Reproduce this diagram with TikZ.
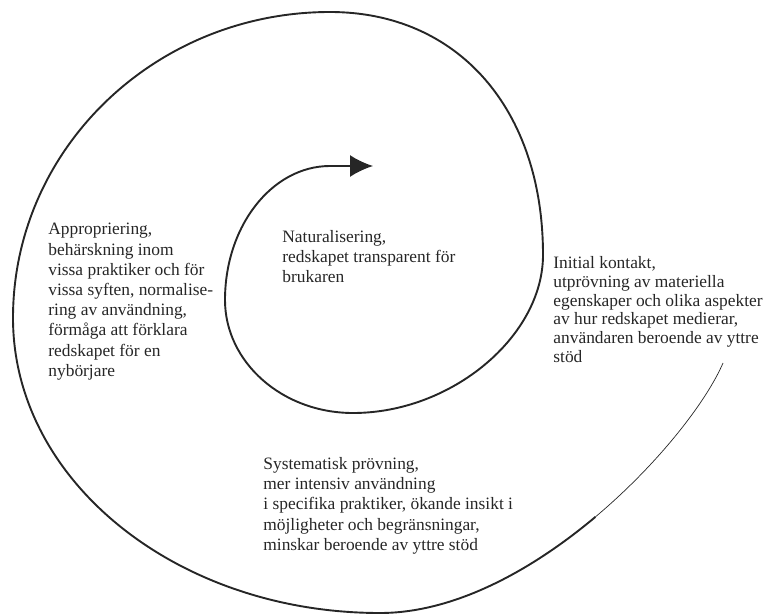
\documentclass[tikz,border=0pt]{standalone}
\usepackage{fontspec}
\setmainfont{Liberation Serif}
\usetikzlibrary{arrows.meta}

\begin{document}
\begin{tikzpicture}[x=0.5pt,y=-0.5pt]
\tikzstyle{every node}+=[inner sep=0pt]
\tikzstyle{phase}=[anchor=north west, align=left, text=black!85,
  font=\fontsize{8.7}{10.1}\selectfont]
\tikzstyle{spiral}=[black!85, line width=0.95pt]
\useasboundingbox (0,0) rectangle (776,615);
\draw [spiral, line width=0.35pt] (723,363) .. controls (706.5,401.5) and (658.25,464) .. (595.4,516.9);
\draw [spiral, -{Latex[length=11.5pt,width=11pt]}] (595.4,516.9)
  .. controls (532.5,569.75) and (455,613) .. (380,613)
  .. controls (177,613) and (13,481) .. (13,318)
  .. controls (13,149) and (155,12) .. (330,12)
  .. controls (458,12) and (543,109) .. (543,255)
  .. controls (543,336) and (452,413) .. (353,413)
  .. controls (282,413) and (225,362) .. (225,300)
  .. controls (225,226) and (272,166) .. (330,166)
  -- (373,166);
\node [phase] (appr) at (48,223) {Appropriering,\\behärskning inom\\vissa praktiker och för\\vissa syften, normalise-\\ring av användning,\\förmåga att förklara\\redskapet för en\\nybörjare};
\node [phase] (natur) at (282,230) {Naturalisering,\\redskapet transparent för\\brukaren};
\node [phase, font=\fontsize{8.7}{9.4}\selectfont] (init) at (553,256) {Initial kontakt,\\utprövning av materiella\\egenskaper och olika aspekter\\av hur redskapet medierar,\\användaren beroende av yttre\\stöd};
\node [phase] (syst) at (263,457) {Systematisk prövning,\\mer intensiv användning\\i specifika praktiker, ökande insikt i\\möjligheter och begränsningar,\\minskar beroende av yttre stöd};
\end{tikzpicture}
\end{document}
